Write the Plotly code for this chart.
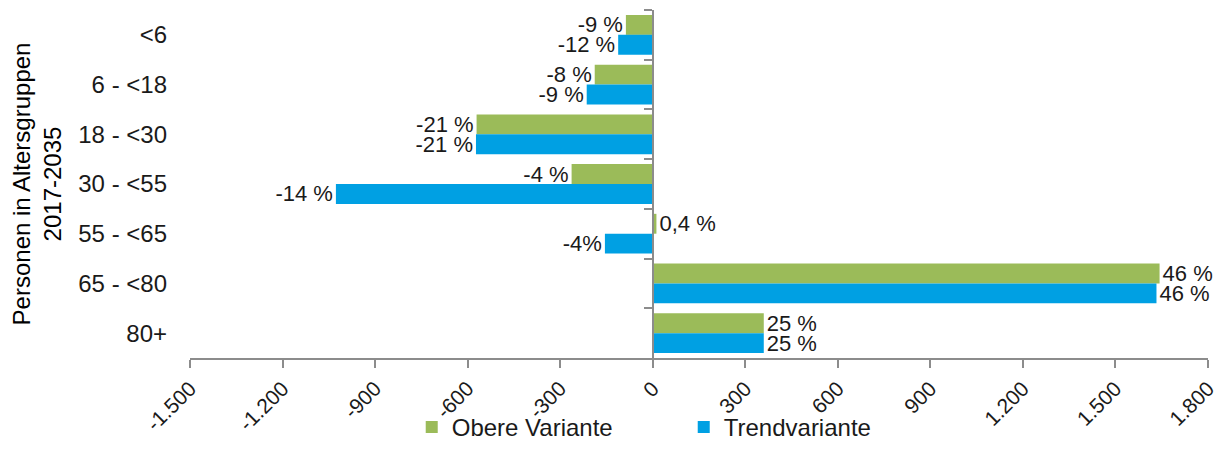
import plotly.graph_objects as go

categories = ["<6", "6 - <18", "18 - <30", "30 - <55", "55 - <65", "65 - <80", "80+"]
obere = [-87, -188, -571, -263, 12, 1643, 360]
trend = [-112, -214, -573, -1027, -155, 1633, 360]
obere_labels = ["-9 %", "-8 %", "-21 %", "-4 %", "0,4 %", "46 %", "25 %"]
trend_labels = ["-12 %", "-9 %", "-21 %", "-14 %", "-4%", "46 %", "25 %"]
tick_vals = [-1500, -1200, -900, -600, -300, 0, 300, 600, 900, 1200, 1500, 1800]
tick_text = ["-1.500", "-1.200", "-900", "-600", "-300", "0", "300", "600", "900", "1.200", "1.500", "1.800"]
x_min, x_max = -1500, 1800

GREEN = "#9BBB59"
BLUE = "#00A0E3"
TXT = "#1a1a1a"
AX = "#8c8c8c"
FONT = "Liberation Sans, Arial, sans-serif"
LBL = 22

fig = go.Figure()
fig.add_trace(go.Bar(
    y=categories, x=obere, orientation="h", name="Obere Variante",
    marker=dict(color=GREEN, line=dict(width=0)),
    text=obere_labels, textposition="outside", cliponaxis=False,
    constraintext="none",
    textfont=dict(size=LBL, color=TXT, family=FONT),
))
fig.add_trace(go.Bar(
    y=categories, x=trend, orientation="h", name="Trendvariante",
    marker=dict(color=BLUE, line=dict(width=0)),
    text=trend_labels, textposition="outside", cliponaxis=False,
    constraintext="none",
    textfont=dict(size=LBL, color=TXT, family=FONT),
))
# helper (invisible) trace for the category axis drawn at x = 0
fig.add_trace(go.Scatter(
    y=categories, x=[0] * len(categories), yaxis="y2", mode="markers",
    marker=dict(opacity=0), showlegend=False, hoverinfo="skip",
))

fig.update_layout(
    width=1220, height=442,
    margin=dict(l=182, r=20, t=2, b=92),
    paper_bgcolor="white", plot_bgcolor="white",
    font=dict(family=FONT, color=TXT, size=22),
    barmode="group", bargap=0.2, bargroupgap=0.0,
    uniformtext=dict(minsize=LBL, mode="show"),
    showlegend=True,
    legend=dict(
        orientation="h", x=0.485, xanchor="center",
        yref="container", y=0.0, yanchor="bottom",
        bgcolor="rgba(0,0,0,0)",
        font=dict(size=24, color=TXT, family=FONT),
        itemwidth=30, traceorder="normal",
        entrywidth=227, entrywidthmode="pixels",
    ),
    xaxis=dict(
        range=[x_min, x_max], tickvals=tick_vals, ticktext=tick_text,
        tickangle=-45, tickfont=dict(size=21, color=TXT, family=FONT),
        showgrid=False, zeroline=False, automargin=False,
        showline=True, linecolor=AX, linewidth=2,
        ticks="outside", ticklen=8, tickcolor=AX, tickwidth=2,
    ),
    yaxis=dict(
        categoryorder="array", categoryarray=categories,
        autorange="reversed", automargin=False,
        showgrid=False, zeroline=False, showline=False, ticks="",
        tickfont=dict(size=24, color=TXT, family=FONT),
        ticklabelstandoff=22,
        title=dict(text="Personen in Altersgruppen<br>2017-2035",
                   font=dict(size=24, color="#000000", family=FONT), standoff=52),
    ),
    yaxis2=dict(
        overlaying="y", matches="y", anchor="free",
        position=(0 - x_min) / (x_max - x_min),
        showticklabels=False, showgrid=False, zeroline=False,
        showline=True, linecolor=AX, linewidth=2,
        ticks="outside", tickson="boundaries", ticklen=8, tickcolor=AX, tickwidth=2,
        categoryorder="array", categoryarray=categories,
    ),
)

fig.write_html("out.html")
